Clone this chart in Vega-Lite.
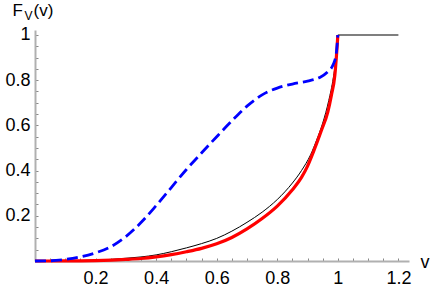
{
  "$schema": "https://vega.github.io/schema/vega-lite/v6.json",
  "width": 374,
  "height": 231,
  "autosize": {"type": "none"},
  "padding": {"left": 35, "top": 30, "right": 22, "bottom": 25},
  "background": "white",
  "config": {"view": {"stroke": null}, "font": "Liberation Sans"},
  "data": {"values": [
    {"s": "black", "v": 0, "F": 0},
    {"s": "black", "v": 0.1, "F": 0.0005},
    {"s": "black", "v": 0.2, "F": 0.004},
    {"s": "black", "v": 0.25, "F": 0.007},
    {"s": "black", "v": 0.3, "F": 0.012},
    {"s": "black", "v": 0.35, "F": 0.018},
    {"s": "black", "v": 0.4, "F": 0.027},
    {"s": "black", "v": 0.45, "F": 0.041},
    {"s": "black", "v": 0.5, "F": 0.058},
    {"s": "black", "v": 0.55, "F": 0.077},
    {"s": "black", "v": 0.6, "F": 0.1},
    {"s": "black", "v": 0.65, "F": 0.132},
    {"s": "black", "v": 0.7, "F": 0.171},
    {"s": "black", "v": 0.75, "F": 0.216},
    {"s": "black", "v": 0.8, "F": 0.272},
    {"s": "black", "v": 0.85, "F": 0.345},
    {"s": "black", "v": 0.88, "F": 0.4},
    {"s": "black", "v": 0.91, "F": 0.47},
    {"s": "black", "v": 0.93, "F": 0.535},
    {"s": "black", "v": 0.95, "F": 0.61},
    {"s": "black", "v": 0.97, "F": 0.71},
    {"s": "black", "v": 0.985, "F": 0.81},
    {"s": "black", "v": 0.995, "F": 0.91},
    {"s": "black", "v": 1.0, "F": 1.0},
    {"s": "flat", "v": 1.0, "F": 1.0},
    {"s": "flat", "v": 1.2, "F": 1.0},
    {"s": "red", "v": 0, "F": 0},
    {"s": "red", "v": 0.1, "F": 0.0002},
    {"s": "red", "v": 0.2, "F": 0.002},
    {"s": "red", "v": 0.3, "F": 0.007},
    {"s": "red", "v": 0.35, "F": 0.011},
    {"s": "red", "v": 0.4, "F": 0.018},
    {"s": "red", "v": 0.45, "F": 0.028},
    {"s": "red", "v": 0.5, "F": 0.041},
    {"s": "red", "v": 0.55, "F": 0.056},
    {"s": "red", "v": 0.6, "F": 0.076},
    {"s": "red", "v": 0.65, "F": 0.104},
    {"s": "red", "v": 0.7, "F": 0.142},
    {"s": "red", "v": 0.75, "F": 0.188},
    {"s": "red", "v": 0.8, "F": 0.243},
    {"s": "red", "v": 0.85, "F": 0.315},
    {"s": "red", "v": 0.88, "F": 0.37},
    {"s": "red", "v": 0.9, "F": 0.42},
    {"s": "red", "v": 0.92, "F": 0.485},
    {"s": "red", "v": 0.945, "F": 0.575},
    {"s": "red", "v": 0.967, "F": 0.66},
    {"s": "red", "v": 0.979, "F": 0.735},
    {"s": "red", "v": 0.99, "F": 0.82},
    {"s": "red", "v": 0.995, "F": 0.9},
    {"s": "red", "v": 0.998, "F": 0.956},
    {"s": "red", "v": 1.0, "F": 1.0},
    {"s": "blue", "v": 0, "F": 0},
    {"s": "blue", "v": 0.05, "F": 0.001},
    {"s": "blue", "v": 0.1, "F": 0.007},
    {"s": "blue", "v": 0.15, "F": 0.018},
    {"s": "blue", "v": 0.2, "F": 0.036},
    {"s": "blue", "v": 0.25, "F": 0.063},
    {"s": "blue", "v": 0.3, "F": 0.108},
    {"s": "blue", "v": 0.35, "F": 0.17},
    {"s": "blue", "v": 0.4, "F": 0.245},
    {"s": "blue", "v": 0.45, "F": 0.325},
    {"s": "blue", "v": 0.5, "F": 0.405},
    {"s": "blue", "v": 0.55, "F": 0.478},
    {"s": "blue", "v": 0.6, "F": 0.55},
    {"s": "blue", "v": 0.65, "F": 0.62},
    {"s": "blue", "v": 0.7, "F": 0.685},
    {"s": "blue", "v": 0.75, "F": 0.735},
    {"s": "blue", "v": 0.8, "F": 0.765},
    {"s": "blue", "v": 0.85, "F": 0.783},
    {"s": "blue", "v": 0.9, "F": 0.796},
    {"s": "blue", "v": 0.94, "F": 0.812},
    {"s": "blue", "v": 0.965, "F": 0.835},
    {"s": "blue", "v": 0.985, "F": 0.87},
    {"s": "blue", "v": 0.995, "F": 0.92},
    {"s": "blue", "v": 1.0, "F": 1.0}
  ]},
  "encoding": {
    "x": {"field": "v", "type": "quantitative",
      "scale": {"domain": [0, 1.235], "nice": false, "zero": false},
      "axis": {
        "orient": "bottom",
        "values": [0.05,0.1,0.15,0.2,0.25,0.3,0.35,0.4,0.45,0.5,0.55,0.6,0.65,0.7,0.75,0.8,0.85,0.9,0.95,1,1.05,1.1,1.15,1.2],
        "labelExpr": "abs(datum.value*5 - round(datum.value*5)) < 0.001 ? format(datum.value, '~g') : ''",
        "labelOverlap": false, "labelFlush": false, "labelBound": false,
        "labelFont": "Liberation Sans", "labelFontSize": 18, "labelColor": "black",
        "labelPadding": 11,
        "grid": false,
        "domainColor": "#b0b0b0", "domainWidth": 2,
        "tickColor": "#888888", "tickWidth": 1, "tickSize": -3,
        "title": "v", "titleFont": "Liberation Sans", "titleFontSize": 18, "titleFontWeight": "normal", "titleColor": "black",
        "titleAngle": 0, "titleAlign": "left", "titleBaseline": "alphabetic",
        "titleX": 385, "titleY": 6
      }}
  },
  "resolve": {"axis": {"y": "independent"}},
  "layer": [
    {
      "transform": [{"filter": "datum.s === 'black'"}],
      "mark": {"type": "line", "color": "black", "strokeWidth": 1, "interpolate": "monotone"},
      "encoding": {
        "y": {"field": "F", "type": "quantitative",
          "scale": {"domain": [0, 1.022], "nice": false, "zero": false},
          "axis": {
            "orient": "left",
            "values": [0.05,0.1,0.15,0.2,0.25,0.3,0.35,0.4,0.45,0.5,0.55,0.6,0.65,0.7,0.75,0.8,0.85,0.9,0.95,1],
            "labelExpr": "abs(datum.value*5 - round(datum.value*5)) < 0.001 ? format(datum.value, '~g') : ''",
            "labelOverlap": false, "labelFlush": false, "labelBound": false,
            "labelFont": "Liberation Sans", "labelFontSize": 18, "labelColor": "black",
            "labelPadding": 8,
            "grid": false,
            "domainColor": "#b0b0b0", "domainWidth": 2,
            "tickColor": "#888888", "tickWidth": 1, "tickSize": -3,
            "title": "F", "titleFont": "Liberation Sans", "titleFontSize": 17, "titleFontWeight": "normal", "titleColor": "black",
            "titleAngle": 0, "titleAlign": "left", "titleBaseline": "alphabetic",
            "titleX": -23, "titleY": -15
          }}
      }
    },
    {
      "transform": [{"filter": "datum.s === 'flat'"}],
      "mark": {"type": "line", "color": "#555555", "strokeWidth": 1.5},
      "encoding": {
        "y": {"field": "F", "type": "quantitative", "scale": {"domain": [0, 1.022], "nice": false, "zero": false},
          "axis": {"orient": "left", "domain": false, "ticks": false, "labels": false, "grid": false,
            "title": "V", "titleFont": "Liberation Sans", "titleFontSize": 12, "titleFontWeight": "normal", "titleColor": "black",
            "titleAngle": 0, "titleAlign": "left", "titleBaseline": "alphabetic",
            "titleX": -11, "titleY": -11}}
      }
    },
    {
      "transform": [{"filter": "datum.s === 'red'"}],
      "mark": {"type": "line", "color": "#ff0000", "strokeWidth": 3.2, "interpolate": "monotone"},
      "encoding": {
        "y": {"field": "F", "type": "quantitative", "scale": {"domain": [0, 1.022], "nice": false, "zero": false},
          "axis": {"orient": "left", "domain": false, "ticks": false, "labels": false, "grid": false,
            "title": "(v)", "titleFont": "Liberation Sans", "titleFontSize": 17, "titleFontWeight": "normal", "titleColor": "black",
            "titleAngle": 0, "titleAlign": "left", "titleBaseline": "alphabetic",
            "titleX": -2, "titleY": -15}}
      }
    },
    {
      "transform": [{"filter": "datum.s === 'blue'"}],
      "mark": {"type": "line", "color": "#0000ff", "strokeWidth": 2.8, "strokeDash": [11, 5], "interpolate": "monotone"},
      "encoding": {
        "y": {"field": "F", "type": "quantitative", "scale": {"domain": [0, 1.022], "nice": false, "zero": false}, "axis": null}
      }
    }
  ]
}
